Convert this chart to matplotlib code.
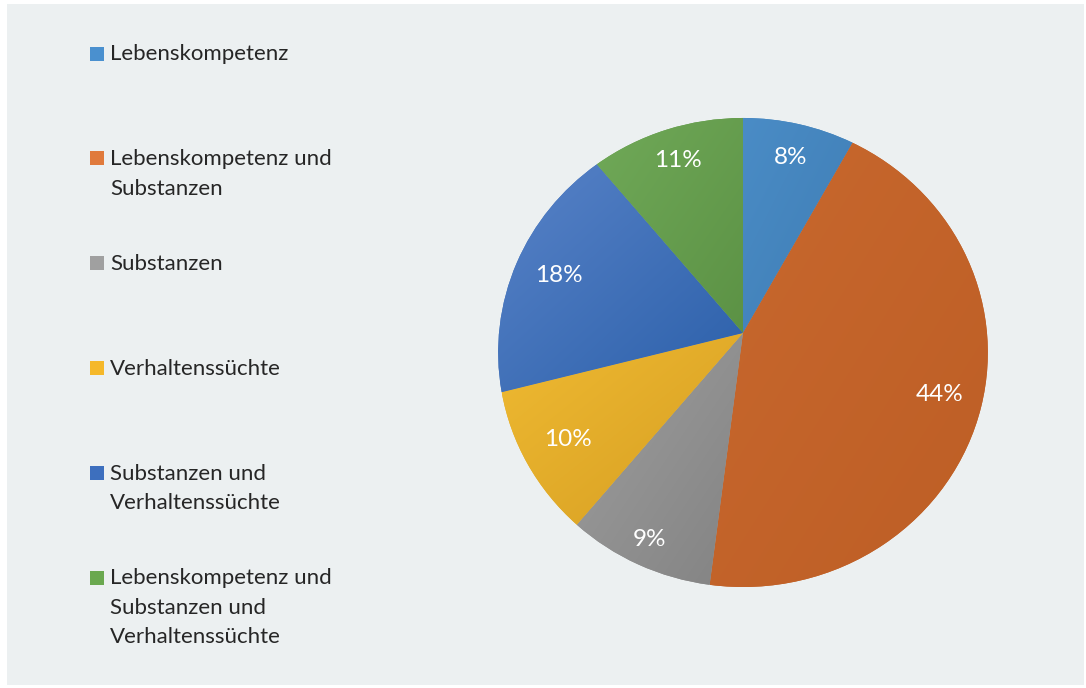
import matplotlib

matplotlib.use("Agg")
import matplotlib.pyplot as plt
import numpy as np
from matplotlib.colors import LinearSegmentedColormap
from matplotlib.patches import Rectangle
from matplotlib.transforms import Transform

# data
labels = [
    "Lebenskompetenz",
    "Lebenskompetenz und\nSubstanzen",
    "Substanzen",
    "Verhaltenssüchte",
    "Substanzen und\nVerhaltenssüchte",
    "Lebenskompetenz und\nSubstanzen und\nVerhaltenssüchte",
]
shares = [8, 44, 9, 10, 18, 11]

# slice gradients (light top-left -> dark bottom-right) and legend swatches
light = ["#4A8CC6", "#C8682E", "#9E9E9E", "#EFBA32", "#5883C8", "#70A958"]
dark = ["#3F7DB4", "#BD5E25", "#838383", "#D69E22", "#2C60AA", "#5C9245"]
legend_colors = ["#4A90CF", "#E07A3C", "#A0A0A0", "#F5B82A", "#3D6FBE", "#6AA84F"]
label_dist = [0.83, 0.83, 0.9, 0.82, 0.81, 0.84]


class Tilt(Transform):
    """Slight perspective tilt: the far (top) half of the pie looks smaller."""
    input_dims = output_dims = 2
    is_separable = False
    has_inverse = False

    def __init__(self, b):
        super().__init__()
        self.b = b

    def transform_non_affine(self, values):
        v = np.asarray(values, dtype=float)
        w = 1 + self.b * v[:, 1]
        return np.column_stack([v[:, 0] / w, v[:, 1] / w])


W, H = 1086, 688
fig = plt.figure(figsize=(W / 100, H / 100), dpi=100, facecolor="white")
fig.patches.append(Rectangle((7 / W, 3 / H), (1084 - 7) / W, (684 - 3) / H,
                             transform=fig.transFigure, facecolor="#ECF0F1",
                             edgecolor="none", zorder=-10))

# pie axes: one data unit = 244 px across, 233 px up; centre at the slice apex
cx, cy, sx, sy, lim = 743, 333, 244, 232.9, 1.3
ax = fig.add_axes([(cx - lim * sx) / W, (H - cy - lim * sy) / H,
                   2 * lim * sx / W, 2 * lim * sy / H])
ax.set_facecolor("none")
wedges, _ = ax.pie(shares, startangle=90, counterclock=False, radius=1.0,
                   colors=[LinearSegmentedColormap.from_list("", [l, d])(0.5)
                           for l, d in zip(light, dark)],
                   wedgeprops=dict(linewidth=0))
ax.set_xlim(-lim, lim)
ax.set_ylim(-lim, lim)
ax.set_aspect("auto")
ax.axis("off")

tilt = Tilt(0.0831)
for w, lc, dc in zip(wedges, light, dark):
    w.set_transform(tilt + ax.transData)
    pts = tilt.transform(w.get_path().vertices)
    x0, y0 = pts.min(axis=0)
    x1, y1 = pts.max(axis=0)
    gx, gy = np.meshgrid(np.linspace(0, 1, 120), np.linspace(0, 1, 120))
    grad = (gx + (1 - gy)) / 2
    im = ax.imshow(grad, cmap=LinearSegmentedColormap.from_list("", [lc, dc]),
                   extent=(x0, x1, y0, y1), origin="lower", aspect="auto",
                   interpolation="bilinear", zorder=w.get_zorder() + 0.1)
    im.set_clip_path(w)

for w, v, d in zip(wedges, shares, label_dist):
    ang = np.deg2rad((w.theta1 + w.theta2) / 2)
    (tx, ty), = tilt.transform([[d * np.cos(ang), d * np.sin(ang)]])
    ax.text(tx, ty, f"{v}%", color="white", fontsize=17.5, family="Lato",
            ha="center", va="center", zorder=5)

# legend drawn by hand: entries evenly spaced by their first line
leg_ax = fig.add_axes([0, 0, 1, 1])
leg_ax.set_facecolor("none")
leg_ax.set_xlim(0, W)
leg_ax.set_ylim(H, 0)
leg_ax.axis("off")
y0, step = 53.5, 104.8
for i, (lab, c) in enumerate(zip(labels, legend_colors)):
    y = y0 + i * step
    leg_ax.add_patch(Rectangle((90, y - 7), 14, 14, facecolor=c, edgecolor="none"))
    leg_ax.text(110, y - 9, lab, fontsize=16, family="Lato", color="#262626",
                ha="left", va="top", linespacing=1.58)

fig.savefig("out.png", dpi=100)
